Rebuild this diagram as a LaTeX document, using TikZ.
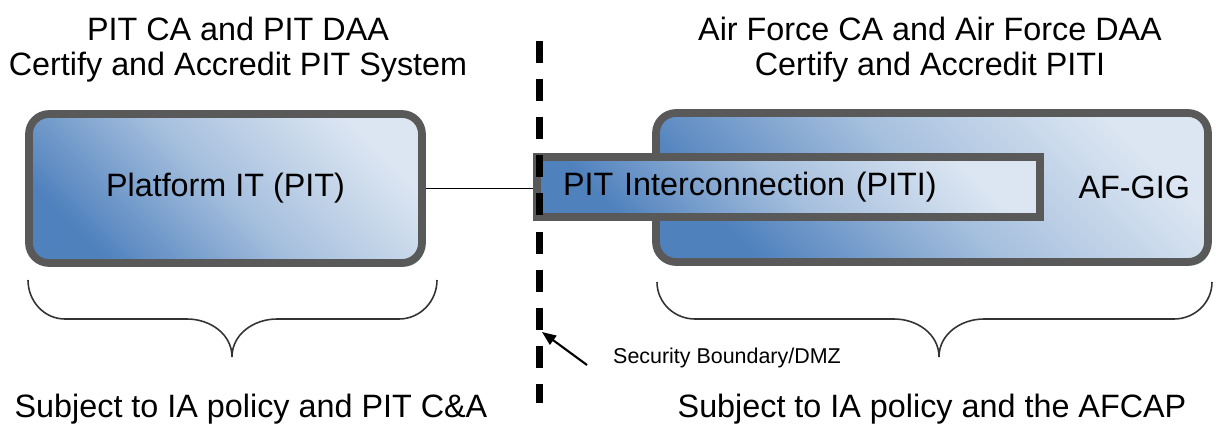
\documentclass[tikz,border=0pt]{standalone}
\usepackage{fontspec}
\setmainfont{Liberation Sans}
\usepackage{xcolor}
\usetikzlibrary{positioning,arrows.meta,shadows,calc}

\definecolor{boxdark}{HTML}{4F81BD}
\definecolor{boxlight}{HTML}{DCE6F2}
\definecolor{boxedge}{HTML}{595959}
\definecolor{boxshadow}{HTML}{8FB3B8}
\definecolor{bracegray}{HTML}{333333}

\newcommand{\bigtext}{\fontsize{18.4pt}{19.4pt}\selectfont}
\newcommand{\smalltext}{\fontsize{12.2pt}{14pt}\selectfont}

\begin{document}
\begin{tikzpicture}[
  box/.style={draw=boxedge, line width=4.4pt, rounded corners=0.4cm,
              top color=boxlight, bottom color=boxdark,
              middle color=boxlight!62!boxdark, shading angle=-45,
              minimum height=2.98cm, font=\bigtext,
              drop shadow={shadow xshift=0.05cm, shadow yshift=-0.07cm,
                           fill=boxshadow, opacity=1}},
  title/.style={font=\bigtext, align=center, anchor=base},
  boundary/.style={line width=0.14cm, dash pattern=on 0.44cm off 0.322cm},
  link/.style={line width=0.9pt},
  pointer/.style={-{Triangle[length=0.28cm,width=0.22cm]}, line width=1.2pt},
  curly/.style={draw=bracegray, line width=0.9pt}
]
\useasboundingbox (0,0) rectangle (24.32,-8.48);

% Titles
\node[title] (pitca) at (4.76,-1.5) {PIT CA and PIT DAA\\Certify and Accredit PIT System};
\node[title] (afca) at (18.6,-1.5) {Air Force CA and Air Force DAA\\Certify and Accredit PITI};

% Boxes
\node[box, minimum width=7.86cm] (pit) at (4.51,-3.77) {Platform IT (PIT)};
\node[box, minimum width=11.04cm, text width=10.32cm, inner xsep=0.36cm,
      align=right] (gig) at (18.64,-3.75) {AF-GIG};
\node[box, sharp corners, minimum width=10.06cm, minimum height=1.2cm,
      text width=9.02cm, inner xsep=0.52cm, align=left] (piti) at (15.77,-3.74)
      {PIT Interconnection (PITI)};

% Link
\draw[link] (pit.east) -- (pit.east -| piti.west);

% Security boundary
\coordinate (bndtop) at (10.78,-0.82);
\coordinate (bndbot) at (10.78,-8.06);
\draw[boundary] (bndtop) -- (bndbot);
\node[font=\smalltext, anchor=base west] (seclabel) at (12.14,-7.26) {Security Boundary/DMZ};
\coordinate (sectail) at (11.74,-7.3);
\coordinate (sectip) at (10.84,-6.64);
\draw[pointer] (sectail) -- (sectip);

% Braces
\draw[curly] (0.56,-5.6) to[out=-90,in=180] (1.3,-6.38) -- (3.74,-6.38)
  to[out=0,in=90] (4.64,-7.14) to[out=90,in=180] (5.54,-6.38) -- (7.98,-6.38)
  to[out=0,in=-90] (8.74,-5.6);
\draw[curly] (13.14,-5.64) to[out=-90,in=180] (13.9,-6.38) -- (17.88,-6.38)
  to[out=0,in=90] (18.78,-7.14) to[out=90,in=180] (19.68,-6.38) -- (23.48,-6.38)
  to[out=0,in=-90] (24.24,-5.64);

% Policies
\node[title] (pitsub) at (5.02,-8.34) {Subject to IA policy and PIT C\&A};
\node[title] (afsub) at (18.64,-8.34) {Subject to IA policy and the AFCAP};

\end{tikzpicture}
\end{document}
